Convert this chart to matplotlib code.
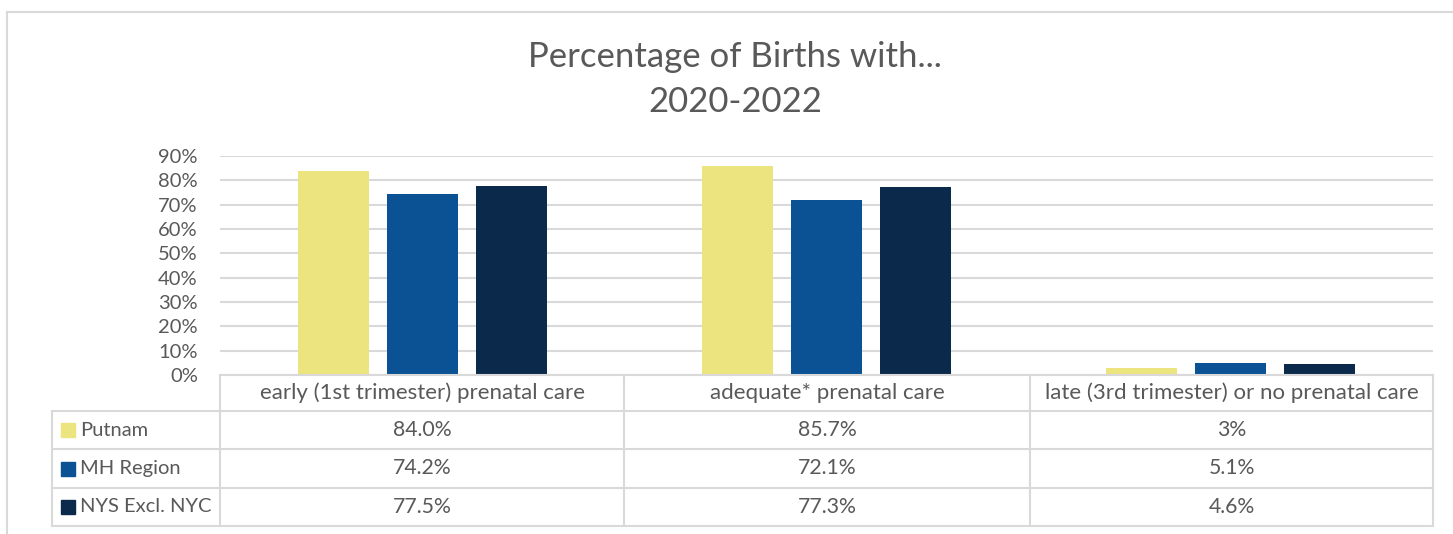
import numpy as np
import matplotlib.pyplot as plt
from matplotlib.lines import Line2D
from matplotlib.patches import Rectangle

plt.rcParams['font.family'] = ['Lato', 'DejaVu Sans']

# data
categories = ['early (1st trimester) prenatal care', 'adequate* prenatal care',
              'late (3rd trimester) or no prenatal care']
series = ['Putnam', 'MH Region', 'NYS Excl. NYC']
putnam = [84.0, 85.7, 3.0]
mh_region = [74.2, 72.1, 5.1]
nys_excl_nyc = [77.5, 77.3, 4.6]
putnam_txt = ['84.0%', '85.7%', '3%']
mh_region_txt = ['74.2%', '72.1%', '5.1%']
nys_excl_nyc_txt = ['77.5%', '77.3%', '4.6%']

colors = ['#ECE47E', '#0A5294', '#0B2A4B']
grey = '#D9D9D9'
txt_col = '#595959'

W, H = 1453, 534
fig = plt.figure(figsize=(W / 100, H / 100), dpi=100)

def fx(x):
    return x / W

def fy(y):
    return 1 - y / H

# outer chart border (only top and left visible)
fig.add_artist(Line2D([fx(7), fx(7)], [fy(12), fy(540)], color=grey, lw=1.5))
fig.add_artist(Line2D([fx(7), fx(1460)], [fy(12), fy(12)], color=grey, lw=1.5))

fig.text(fx(735), fy(57), 'Percentage of Births with...', ha='center', va='center',
         fontsize=25, color=txt_col)
fig.text(fx(735), fy(102), '2020-2022', ha='center', va='center',
         fontsize=25, color=txt_col)

# plot area
left, right, top, bottom = 220, 1433, 156, 375
ax = fig.add_axes([fx(left), fy(bottom), fx(right - left), (bottom - top) / H])
ax.set_xlim(0, 3)
ax.set_ylim(0, 90)
x = np.arange(3) + 0.5
bw = 0.1756
off = 0.22
all_vals = [putnam, mh_region, nys_excl_nyc]
for i, vals in enumerate(all_vals):
    ax.bar(x + (i - 1) * off, vals, width=bw, color=colors[i], zorder=3)
ax.set_yticks(np.arange(0, 91, 10))
ax.set_yticklabels([f'{v}%' for v in range(0, 91, 10)], fontsize=14.5, color=txt_col)
ax.tick_params(axis='y', length=0, pad=16)
ax.set_xticks([])
ax.grid(axis='y', color=grey, lw=1.5, zorder=0)
for s in ax.spines.values():
    s.set_visible(False)

# data table underneath
col_x = [220, 624, 1030, 1433]
row_y = [375, 411, 449, 488, 526]
lab_left = 52

def hline(x0, x1, y):
    fig.add_artist(Line2D([fx(x0), fx(x1)], [fy(y), fy(y)], color=grey, lw=1.5))

def vline(x0, y0, y1):
    fig.add_artist(Line2D([fx(x0), fx(x0)], [fy(y0), fy(y1)], color=grey, lw=1.5))

hline(col_x[0], col_x[-1], row_y[0])
for y in row_y[1:]:
    hline(lab_left, col_x[-1], y)
vline(lab_left, row_y[1], row_y[-1])
for cx in col_x:
    vline(cx, row_y[0], row_y[-1])

for j, cat in enumerate(categories):
    xc = (col_x[j] + col_x[j + 1]) / 2
    fig.text(fx(xc), fy((row_y[0] + row_y[1]) / 2), cat, ha='center', va='center',
             fontsize=16, color=txt_col)

all_txt = [putnam_txt, mh_region_txt, nys_excl_nyc_txt]
for i, name in enumerate(series):
    yc = (row_y[i + 1] + row_y[i + 2]) / 2
    fig.add_artist(Rectangle((fx(61), fy(yc + 7)), 14 / W, 14 / H,
                             color=colors[i], transform=fig.transFigure))
    fig.text(fx(80), fy(yc), name, ha='left', va='center', fontsize=14.5, color=txt_col)
    for j in range(3):
        xc = (col_x[j] + col_x[j + 1]) / 2
        fig.text(fx(xc), fy(yc), all_txt[i][j], ha='center', va='center',
                 fontsize=15.3, color=txt_col)

fig.savefig('out.png', dpi=100)
